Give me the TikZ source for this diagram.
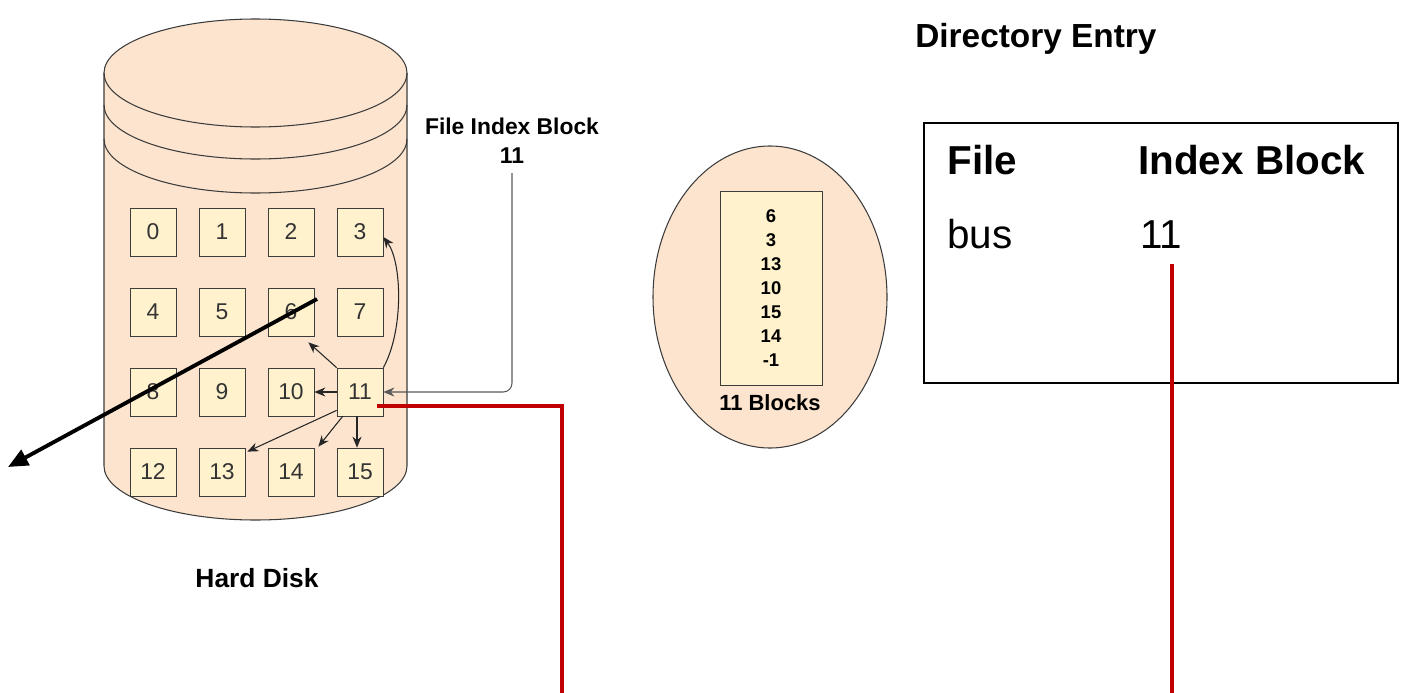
\documentclass[tikz,border=0pt]{standalone}
\usepackage{fontspec}
\setmainfont{Liberation Sans}
\usepackage{xcolor}
\definecolor{diskFill}{HTML}{FCE4CE}
\definecolor{blockFill}{HTML}{FFF2CC}
\definecolor{edgeGray}{HTML}{3C3C3C}
\definecolor{linkRed}{HTML}{C00000}
\usetikzlibrary{arrows.meta, calc}
\tikzset{
    blk/.style={draw=edgeGray, fill=blockFill, minimum width=0.92cm, minimum height=0.96cm,
                inner sep=0pt, font=\fontsize{13}{13}\selectfont, text=black!80},
    ptr/.style={draw=black!85, line width=0.6pt, -{Stealth[length=2.2mm,width=1.8mm]}},
    redline/.style={draw=linkRed, line width=2.2pt},
    lbl/.style={font=\bfseries\fontsize{13}{16.5}\selectfont, inner sep=0pt},
    big/.style={font=\fontsize{23}{23}\selectfont, inner sep=0pt, anchor=base west}
}

\begin{document}
\begin{tikzpicture}[x=0.02cm, y=0.02cm]
  % Canvas (pixel-like units, y down is negative)
  \useasboundingbox (0,0) rectangle (1403,-693);

  % Parameters of the disk
  \def\rx{151.5}
  \def\ry{54}

  % Hard disk cylinder
  \filldraw[fill=diskFill, draw=edgeGray, line width=0.6pt]
    (104,-73) -- (104,-466)
    arc[start angle=180, end angle=360, x radius=\rx, y radius=\ry]
    -- (407,-73)
    arc[start angle=0, end angle=180, x radius=\rx, y radius=\ry] -- cycle;
  % Platter rims
  \foreach \dy in {0,32,66}{
    \draw[edgeGray, line width=0.6pt]
      (104,-73-\dy) arc[start angle=180, end angle=360, x radius=\rx, y radius=\ry];
  }
  \node[font=\bfseries\fontsize{15}{15}\selectfont] (hd) at (257,-578) {Hard Disk};

  % Blocks 0..15 on the disk
  \foreach \n in {0,...,15}{
    \pgfmathtruncatemacro\col{mod(\n,4)}
    \pgfmathtruncatemacro\row{div(\n,4)}
    \node[blk] (b\n) at ({153+69*\col},{-232-80*\row}) {\n};
  }

  % Index block 11 points to its data blocks
  \draw[ptr] (b11.west) -- (b10.east);
  \draw[ptr] (b11.north west) -- ([shift={(-6,-6)}]b6.south east);
  \draw[ptr] (b11.north east) .. controls (404,-330) and (402,-262) .. ([shift={(0,-5)}]b3.east);
  \draw[ptr] ([shift={(0,6)}]b11.south west) -- ([shift={(2,-4)}]b13.north east);
  \draw[ptr] ([shift={(6,0)}]b11.south west) -- ([shift={(4,1)}]b14.north east);
  \draw[ptr] ([shift={(-3,0)}]b11.south) -- ([shift={(-3,0)}]b15.north);

  % Label of the index block
  \node[lbl, align=center] (fib) at (512,-141) {File Index Block\\11};
  \draw[ptr, draw=black!65, rounded corners=5pt] ([shift={(0,-9)}]fib.south) |- (b11.east);

  % Thick pointer leaving the disk
  \coordinate (outStart) at (317,-299);
  \coordinate (outEnd)   at (8,-467);
  \draw[line width=2.2pt, -{Triangle[length=4mm,width=3.4mm]}] (outStart) -- (outEnd);

  % Contents of index block 11
  \filldraw[fill=diskFill, draw=edgeGray, line width=0.6pt]
    (770,-297) ellipse[x radius=117, y radius=151];
  \node[draw=edgeGray, fill=blockFill, minimum width=2.04cm, minimum height=3.88cm,
        align=center, font=\bfseries\fontsize{10.5}{13.7}\selectfont] (ilist) at (771,-288)
        {6\\3\\13\\10\\15\\14\\-1};
  \node[font=\bfseries\fontsize{12.5}{12.5}\selectfont] (icap) at (770,-403) {11 Blocks};

  % Directory entry table
  \node[anchor=base west, inner sep=0pt, font=\bfseries\fontsize{19}{19}\selectfont]
    (dtitle) at (915,-48) {Directory Entry};
  \draw[line width=0.9pt] (924,-123) rectangle (1398,-383);
  \node[big, font=\bfseries\fontsize{23}{23}\selectfont] (hFile)  at (947,-174) {File};
  \node[big, font=\bfseries\fontsize{23}{23}\selectfont] (hIndex) at (1138,-174) {Index Block};
  \node[big] (eFile)  at (947,-248) {bus};
  \node[big] (eIndex) at (1140,-248) {11};

  % Red links
  \coordinate (diskDrop) at (562,-693);
  \draw[redline] ([shift={(-6,-14)}]b11.east) -| (diskDrop);
  \coordinate (dirTop) at (1172,-264);
  \coordinate (dirDrop) at (1172,-693);
  \draw[redline] (dirTop) -- (dirDrop);
\end{tikzpicture}
\end{document}
